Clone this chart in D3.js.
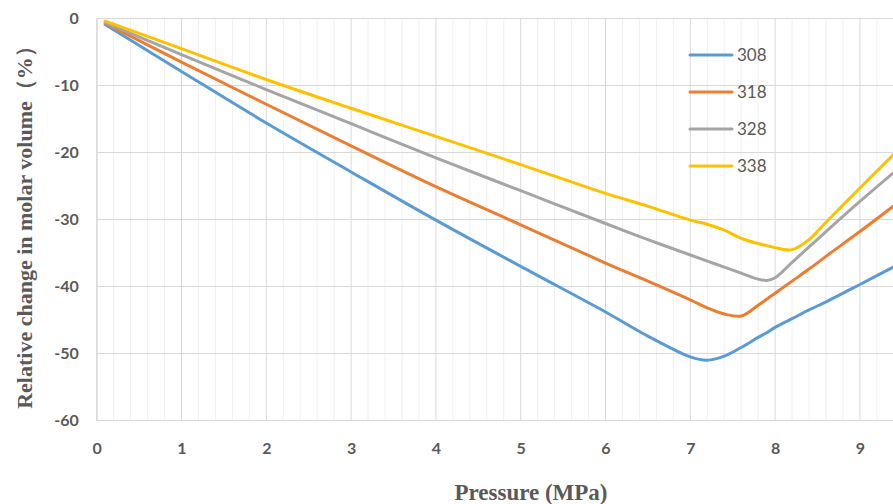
<!DOCTYPE html>
<html>
<head>
<meta charset="utf-8">
<script src="https://cdn.jsdelivr.net/npm/d3@7"></script>
<style>
  html, body { margin: 0; padding: 0; background: #fff; }
  svg { display: block; overflow: hidden; }
</style>
</head>
<body>
<div id="chart-area"></div>
<script>
// pressure points (MPa) shared by all series
const pressure = [0.1, 1, 2, 3, 4, 5, 6, 6.5, 7, 7.2, 7.4, 7.6, 7.8, 7.9, 8, 8.2, 8.4, 8.6, 9, 9.5];
const temps = ["308", "318", "328", "338"];
const vol308 = [-0.9, -7.9, -15.6, -22.9, -30.1, -37.0, -43.8, -47.4, -50.5, -51.0, -50.4, -49.1, -47.6, -46.9, -46.1, -44.8, -43.5, -42.3, -39.7, -36.4];
const vol318 = [-0.7, -6.5, -12.8, -19.0, -25.1, -30.8, -36.5, -39.2, -42.0, -43.2, -44.1, -44.4, -42.8, -41.9, -41.0, -39.2, -37.4, -35.5, -31.8, -27.0];
const vol328 = [-0.6, -5.4, -10.6, -15.7, -20.8, -25.7, -30.6, -33.0, -35.3, -36.2, -37.1, -38.0, -38.9, -39.1, -38.7, -36.4, -34.1, -31.8, -27.3, -21.9];
const vol338 = [-0.4, -4.5, -9.1, -13.4, -17.6, -21.8, -26.1, -28.0, -30.1, -30.7, -31.6, -32.8, -33.6, -33.9, -34.2, -34.5, -33.0, -30.4, -25.3, -19.0];
const xTicks = [0, 1, 2, 3, 4, 5, 6, 7, 8, 9];
const yTicks = [0, -10, -20, -30, -40, -50, -60];

const seriesColors = ["#5B9BD5", "#ED7D31", "#A5A5A5", "#FFC000"];
const allSeries = [vol308, vol318, vol328, vol338].map((vals, i) => ({
    name: temps[i],
    color: seriesColors[i],
    points: pressure.map((p, j) => ({ p: p, v: vals[j] }))
}));

const width = 893, height = 504;
const plot = { left: 96.7, top: 18.5, bottom: 420.5 };

const svg = d3.select("#chart-area")
    .append("svg")
    .attr("width", width)
    .attr("height", height);

const x = d3.scaleLinear().domain([0, 10]).range([plot.left, plot.left + 848]);
const y = d3.scaleLinear().domain([-60, 0]).range([plot.bottom, plot.top]);

// minor vertical grid every 0.2
const minorX = d3.range(0, 50).map(i => i / 5).filter(v => v % 1 !== 0);
svg.append("g")
    .selectAll("line")
    .data(minorX)
    .enter().append("line")
    .attr("x1", d => x(d)).attr("x2", d => x(d))
    .attr("y1", plot.top).attr("y2", plot.bottom)
    .attr("stroke", "#F0F0F0")
    .attr("stroke-width", 1);

// major grid
svg.append("g")
    .selectAll("line")
    .data(xTicks)
    .enter().append("line")
    .attr("x1", d => x(d)).attr("x2", d => x(d))
    .attr("y1", plot.top).attr("y2", plot.bottom)
    .attr("stroke", "#D9D9D9")
    .attr("stroke-width", 1);

svg.append("g")
    .selectAll("line")
    .data(yTicks)
    .enter().append("line")
    .attr("x1", plot.left).attr("x2", width)
    .attr("y1", d => y(d)).attr("y2", d => y(d))
    .attr("stroke", "#D9D9D9")
    .attr("stroke-width", 1);

// axes (labels only)
const xAxis = d3.axisBottom(x).tickValues(xTicks).tickSize(0).tickPadding(22).tickFormat(d => String(d));
const yAxis = d3.axisLeft(y).tickValues(yTicks).tickSize(0).tickPadding(18).tickFormat(d => String(d));

const gx = svg.append("g")
    .attr("transform", `translate(0,${plot.bottom})`)
    .call(xAxis);
const gy = svg.append("g")
    .attr("transform", `translate(${plot.left},0)`)
    .call(yAxis);

gx.select(".domain").remove();
gy.select(".domain").attr("stroke", "#D9D9D9");
[gx, gy].forEach(g => {
    g.selectAll("text")
        .attr("fill", "#595959")
        .attr("font-family", "Lato, 'Open Sans', sans-serif")
        .attr("font-weight", "bold")
        .attr("font-size", "16px");
});

// series lines
const line = d3.line()
    .x(d => x(d.p))
    .y(d => y(d.v))
    .curve(d3.curveCatmullRom.alpha(0.5));

svg.append("g")
    .selectAll("path")
    .data(allSeries)
    .enter().append("path")
    .attr("d", d => line(d.points))
    .attr("fill", "none")
    .attr("stroke", d => d.color)
    .attr("stroke-width", 3)
    .attr("stroke-linecap", "round");

// legend
const legend = svg.append("g")
    .attr("transform", "translate(690, 55)");

const rows = legend.selectAll("g")
    .data(allSeries)
    .enter().append("g")
    .attr("transform", (d, i) => `translate(0, ${i * 37})`);

rows.append("line")
    .attr("x1", 0).attr("x2", 42)
    .attr("y1", 0).attr("y2", 0)
    .attr("stroke", d => d.color)
    .attr("stroke-width", 3)
    .attr("stroke-linecap", "round");

rows.append("text")
    .attr("x", 47)
    .attr("y", 6)
    .attr("fill", "#595959")
    .attr("font-family", "Lato, 'Open Sans', sans-serif")
    .attr("font-size", "17px")
    .text(d => d.name);

// axis titles
svg.append("text")
    .attr("x", 531)
    .attr("y", 500)
    .attr("text-anchor", "middle")
    .attr("fill", "#595959")
    .attr("font-family", "'Liberation Serif', 'Times New Roman', serif")
    .attr("font-weight", "bold")
    .attr("font-size", "23px")
    .text("Pressure (MPa)");

svg.append("text")
    .attr("transform", "rotate(-90)")
    .attr("x", -222)
    .attr("y", 32)
    .attr("text-anchor", "middle")
    .attr("fill", "#595959")
    .attr("font-family", "'Liberation Serif', 'Times New Roman', serif")
    .attr("font-weight", "bold")
    .attr("font-size", "22px")
    .text("Relative change in molar volume（%）");
</script>
</body>
</html>
